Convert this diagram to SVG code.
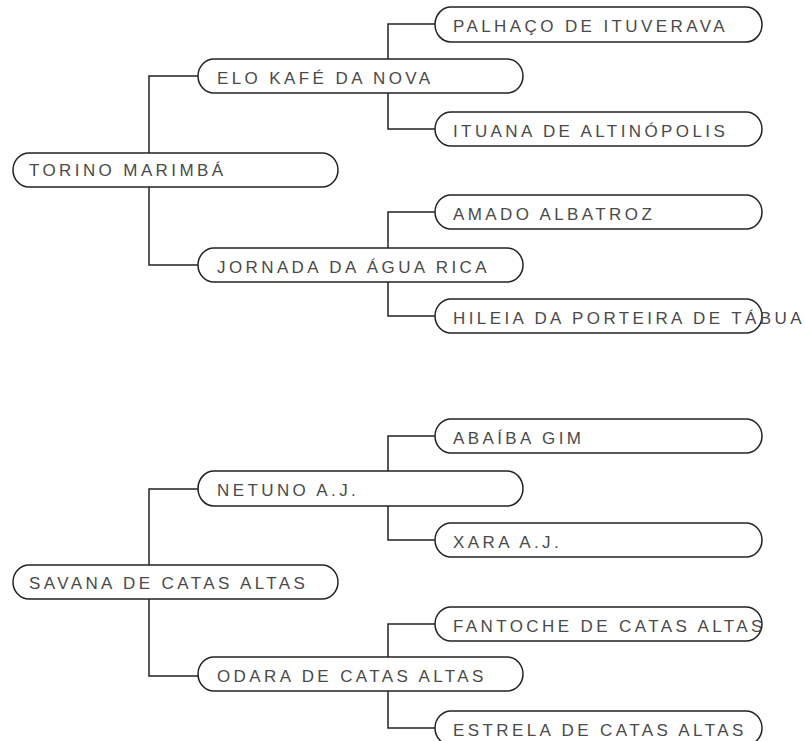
<svg xmlns="http://www.w3.org/2000/svg" width="805" height="741" viewBox="0 0 805 741">
<style>
  .bg { fill: #ffffff; }
  .edge { fill: none; stroke: #222222; stroke-width: 1.5; }
  .box { fill: #ffffff; stroke: #222222; stroke-width: 1.5; }
  .lbl { font-family: "Liberation Sans", Arial, sans-serif; font-size: 17px; letter-spacing: 3.4px; fill: #4a4a4a; }
</style>
<rect class="bg" x="0" y="0" width="805" height="741"/>
<g id="connectors">
  <path class="edge" d="M198,76 H149 V265 H198"/>
  <path class="edge" d="M435,24 H388 V129 H435"/>
  <path class="edge" d="M435,212 H388 V316 H435"/>
  <path class="edge" d="M198,489 H149 V676 H198"/>
  <path class="edge" d="M435,436 H388 V540 H435"/>
  <path class="edge" d="M435,624 H388 V728 H435"/>
</g>
<g id="n-torino"><rect class="box" x="13" y="153" width="325" height="34" rx="16" ry="17"/><text class="lbl" x="29" y="176">TORINO MARIMBÁ</text></g>
<g id="n-elo"><rect class="box" x="198" y="59" width="325" height="34" rx="16" ry="17"/><text class="lbl" x="217" y="84">ELO KAFÉ DA NOVA</text></g>
<g id="n-palhaco"><rect class="box" x="435" y="7" width="327" height="35" rx="16" ry="17.5"/><text class="lbl" x="453" y="32">PALHAÇO DE ITUVERAVA</text></g>
<g id="n-ituana"><rect class="box" x="435" y="112" width="327" height="34" rx="16" ry="17"/><text class="lbl" x="453" y="137">ITUANA DE ALTINÓPOLIS</text></g>
<g id="n-jornada"><rect class="box" x="198" y="248" width="325" height="34" rx="16" ry="17"/><text class="lbl" x="217" y="273">JORNADA DA ÁGUA RICA</text></g>
<g id="n-amado"><rect class="box" x="435" y="195" width="327" height="34" rx="16" ry="17"/><text class="lbl" x="453" y="220">AMADO ALBATROZ</text></g>
<g id="n-hileia"><rect class="box" x="435" y="299" width="327" height="34" rx="16" ry="17"/><text class="lbl" x="453" y="324">HILEIA DA PORTEIRA DE TÁBUA</text></g>
<g id="n-savana"><rect class="box" x="13" y="565" width="325" height="34" rx="16" ry="17"/><text class="lbl" x="29" y="589">SAVANA DE CATAS ALTAS</text></g>
<g id="n-netuno"><rect class="box" x="198" y="471" width="325" height="35" rx="16" ry="17.5"/><text class="lbl" x="217" y="496">NETUNO A.J.</text></g>
<g id="n-abaiba"><rect class="box" x="435" y="419" width="327" height="34" rx="16" ry="17"/><text class="lbl" x="453" y="444">ABAÍBA GIM</text></g>
<g id="n-xara"><rect class="box" x="435" y="523" width="327" height="34" rx="16" ry="17"/><text class="lbl" x="453" y="548">XARA A.J.</text></g>
<g id="n-odara"><rect class="box" x="198" y="657" width="325" height="34" rx="16" ry="17"/><text class="lbl" x="217" y="682">ODARA DE CATAS ALTAS</text></g>
<g id="n-fantoche"><rect class="box" x="435" y="607" width="327" height="34" rx="16" ry="17"/><text class="lbl" x="453" y="632">FANTOCHE DE CATAS ALTAS</text></g>
<g id="n-estrela"><rect class="box" x="435" y="711" width="327" height="34" rx="16" ry="17"/><text class="lbl" x="453" y="736">ESTRELA DE CATAS ALTAS</text></g>
</svg>
